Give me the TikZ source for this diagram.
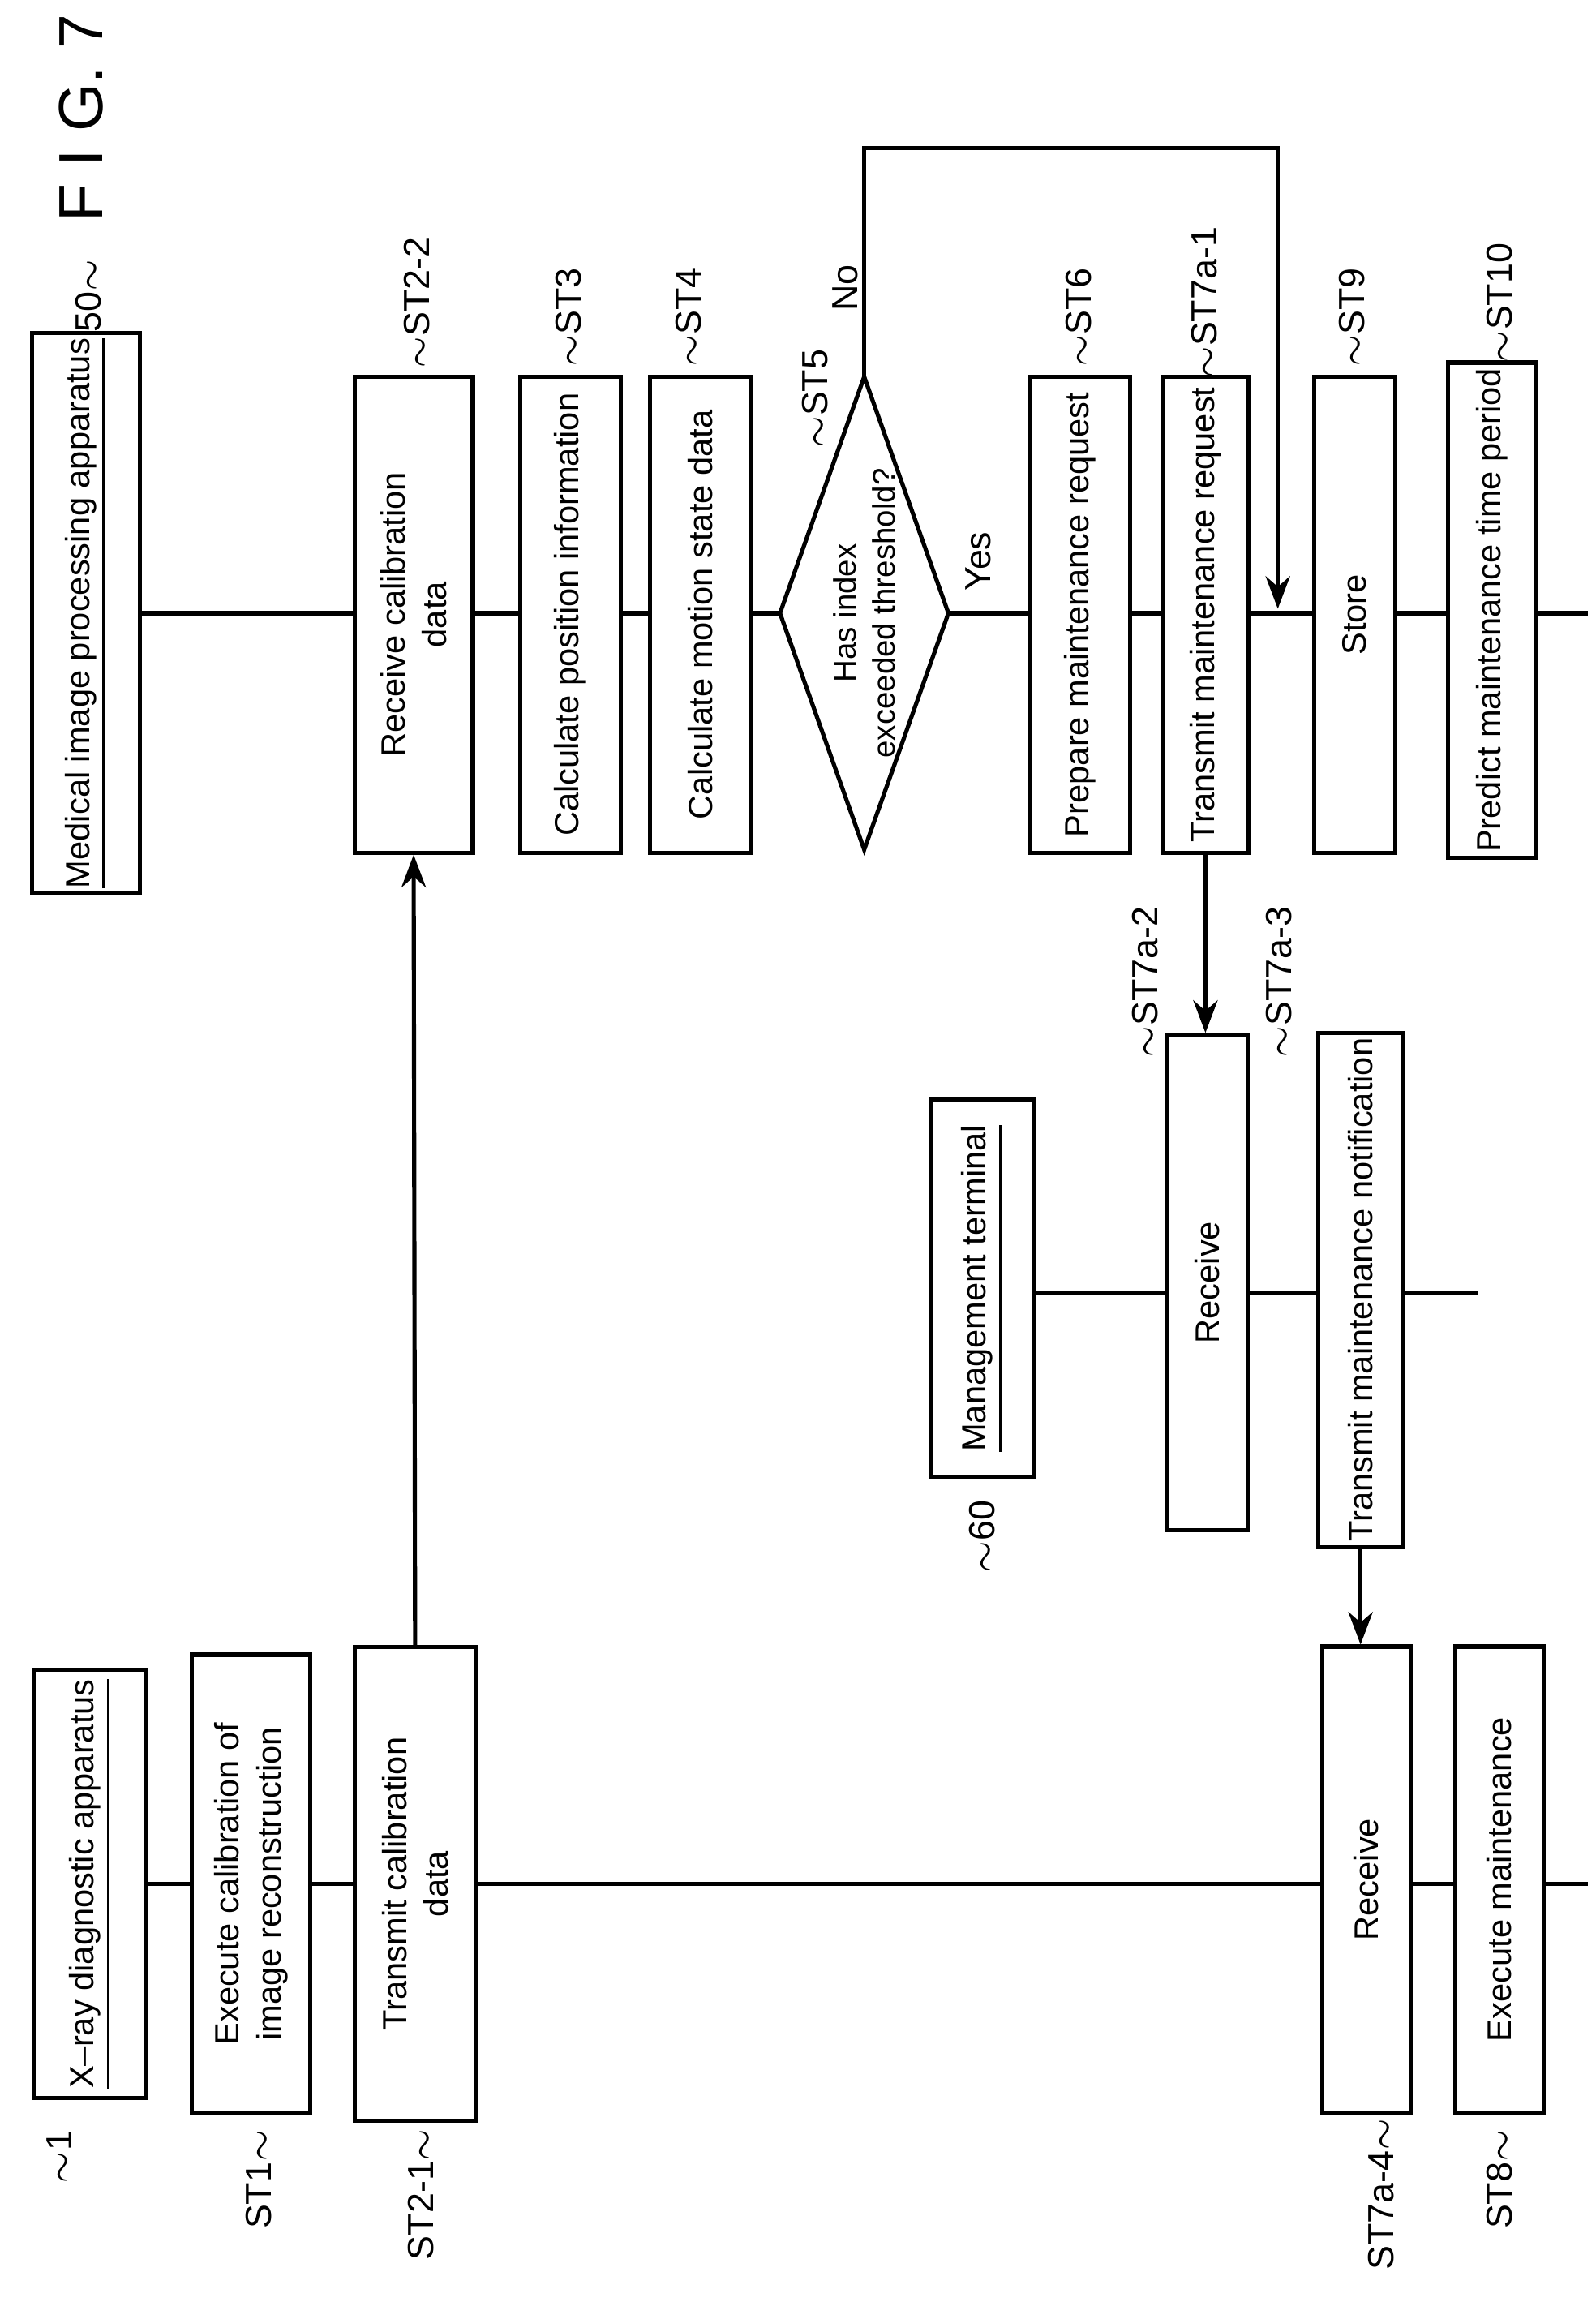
\documentclass[tikz,border=0pt]{standalone}
\usepackage{fontspec}
\setmainfont{Liberation Sans}
\usetikzlibrary{arrows.meta}
\tikzset{
  box/.style={draw, thick, fill=white, rotate=90, align=center, inner sep=1pt, font=\fontsize{6.5}{8}\selectfont},
  head/.style={box},
  tag/.style={rotate=90, font=\fontsize{7}{8}\selectfont, inner sep=0pt},
  flow/.style={thick, -{Stealth[length=2.2mm]}}
}
\begin{document}
\begin{tikzpicture}[x=0.01cm, y=-0.01cm]
   \useasboundingbox (0,0) rectangle (1080,1558);
   \node[rotate=90, font=\fontsize{12}{14}\selectfont] (fig) at (55,80) {F I G. 7};
   % lifelines
   \coordinate (xa) at (100,1275);  \coordinate (xb) at (1075,1275);
   \coordinate (ma) at (95,415);    \coordinate (mb) at (1075,415);
   \coordinate (ta) at (700,875);   \coordinate (tb) at (1000,875);
   \draw[thick] (xa) -- (xb);
   \draw[thick] (ma) -- (mb);
   \draw[thick] (ta) -- (tb);
   % X-ray lane
   \node[head, minimum width=2.9cm, minimum height=0.75cm] (xray) at (61,1275) {\underline{X--ray diagnostic apparatus}};
   \node[box, minimum width=3.1cm, minimum height=0.8cm] (st1) at (170,1275) {Execute calibration of\\image reconstruction};
   \node[box, minimum width=3.2cm, minimum height=0.82cm] (st21) at (281,1275) {Transmit calibration\\data};
   \node[box, minimum width=3.15cm, minimum height=0.6cm] (st7a4) at (925,1272) {Receive};
   \node[box, minimum width=3.15cm, minimum height=0.6cm] (st8) at (1015,1272) {Execute maintenance};
   % medical lane
   \node[head, minimum width=3.6cm, minimum height=0.73cm] (med) at (58,415) {\underline{Medical image processing apparatus}};
   \node[box, minimum width=3.22cm, minimum height=0.8cm] (st22) at (280,416) {Receive calibration\\data};
   \node[box, minimum width=3.22cm, minimum height=0.68cm] (st3) at (386,416) {Calculate position information};
   \node[box, minimum width=3.22cm, minimum height=0.68cm] (st4) at (474,416) {Calculate motion state data};
   \coordinate (st5t) at (585,255);  \coordinate (st5b) at (585,575);
   \coordinate (st5l) at (528,415);  \coordinate (st5r) at (642,415);
   \filldraw[thick, fill=white] (st5t) -- (st5r) -- (st5b) -- (st5l) -- cycle;
   \node[rotate=90, align=center, font=\fontsize{6}{7.5}\selectfont] (st5) at (585,415) {Has index\\exceeded threshold?};
   \node[box, minimum width=3.22cm, minimum height=0.68cm] (st6) at (731,416) {Prepare maintenance request};
   \node[box, minimum width=3.22cm, minimum height=0.58cm] (st7a1) at (816,416) {Transmit maintenance request};
   \node[box, minimum width=3.22cm, minimum height=0.55cm] (st9) at (917,416) {Store};
   \node[box, minimum width=3.35cm, minimum height=0.6cm] (st10) at (1010,413) {Predict maintenance time period};
   % management lane
   \node[head, minimum width=2.55cm, minimum height=0.7cm] (mgmt) at (665,872) {\underline{Management terminal}};
   \node[box, minimum width=3.35cm, minimum height=0.55cm] (st7a2) at (817,868) {Receive};
   \node[box, minimum width=3.45cm, minimum height=0.57cm] (st7a3) at (921,873) {Transmit maintenance notification};
   % tags
   \node[tag] (t1) at (40,1460) {$\sim$1};
   \node[tag] (t50) at (60,200) {50$\sim$};
   \node[tag] (t60) at (665,1040) {$\sim$60};
   \node[tag] (tst1) at (175,1475) {ST1$\sim$};
   \node[tag] (tst21) at (285,1485) {ST2-1$\sim$};
   \node[tag] (tst7a4) at (935,1485) {ST7a-4$\sim$};
   \node[tag] (tst8) at (1015,1475) {ST8$\sim$};
   \node[tag] (tst22) at (282,205) {$\sim$ST2-2};
   \node[tag] (tst3) at (385,215) {$\sim$ST3};
   \node[tag] (tst4) at (466,215) {$\sim$ST4};
   \node[tag] (tst5) at (552,270) {$\sim$ST5};
   \node[tag] (tst6) at (730,215) {$\sim$ST6};
   \node[tag] (tst7a1) at (815,205) {$\sim$ST7a-1};
   \node[tag] (tst9) at (915,215) {$\sim$ST9};
   \node[tag] (tst10) at (1015,205) {$\sim$ST10};
   \node[tag] (tst7a2) at (775,665) {$\sim$ST7a-2};
   \node[tag] (tst7a3) at (866,665) {$\sim$ST7a-3};
   \node[tag] (no) at (572,195) {No};
   \node[tag] (yes) at (662,380) {Yes};
   % messages
   \coordinate (n1) at (585,100);
   \coordinate (n2) at (865,100);
   \coordinate (n3) at (865,412);
   \draw[flow] (st21.east) -- (st22.west);
   \draw[flow] (st5t) -- (n1) -- (n2) -- (n3);
   \draw[flow] (st7a1.west) -- (st7a1.west |- st7a2.east);
   \draw[flow] (st7a3.west) -- (st7a3.west |- st7a4.east);
\end{tikzpicture}
\end{document}
